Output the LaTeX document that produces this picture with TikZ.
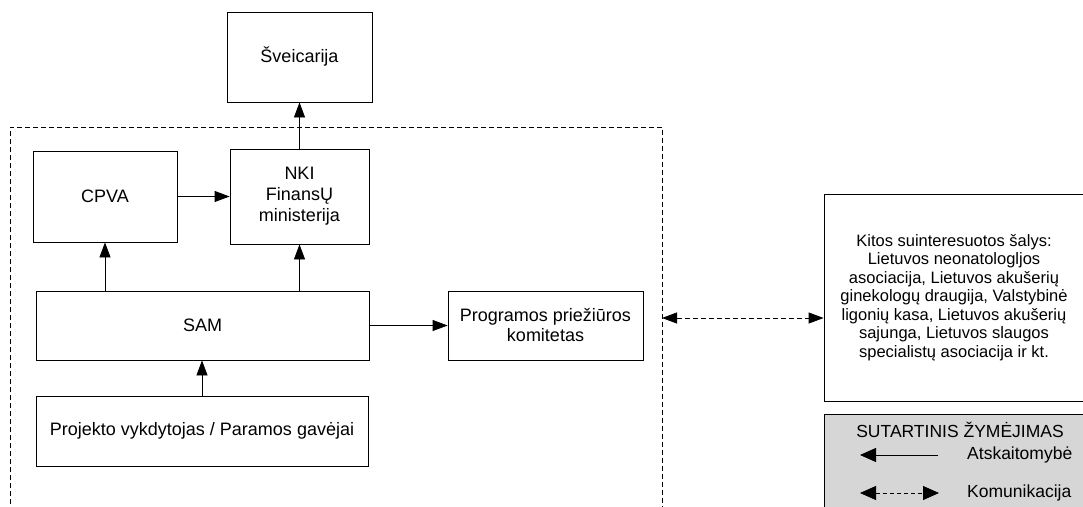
\documentclass[tikz,border=0pt]{standalone}
\usepackage{fontspec}
\setmainfont{Liberation Sans}
\usetikzlibrary{arrows.meta,calc}
\definecolor{legendgray}{RGB}{214,214,214}
\begin{document}
\begin{tikzpicture}[x=1pt,y=-1pt,
  box/.style={draw, line width=0.8pt, align=center, inner sep=0pt, font=\fontsize{18}{20.5}\selectfont},
  txt/.style={inner sep=0pt, font=\fontsize{17.5}{20}\selectfont},
  arr/.style={-{Triangle[length=15pt,width=11pt]}, line width=0.8pt},
  larr/.style={{Triangle[length=16pt,width=14pt]}-, line width=0.8pt},
  lcomm/.style={{Triangle[length=16pt,width=14pt]}-{Triangle[length=16pt,width=14pt]}, line width=0.8pt, dash pattern=on 4pt off 3pt},
  comm/.style={{Triangle[length=15pt,width=11pt]}-{Triangle[length=15pt,width=11pt]}, line width=0.8pt, dash pattern=on 5pt off 3pt},
  framestyle/.style={line width=0.8pt, dash pattern=on 5pt off 3pt}]
\useasboundingbox (0,0) rectangle (1083,506);
\clip (0,0) rectangle (1083,506);
\fill[white] (0,0) rectangle (1083,506);

% dashed frame (open at the bottom, beyond picture edge)
\coordinate (fbl) at (10,520);
\coordinate (ftl) at (10,127);
\coordinate (ftr) at (662,127);
\coordinate (fbr) at (662,520);
\draw[framestyle] (fbl) -- (ftl) -- (ftr) -- (fbr);

\node[box, minimum width=145pt, minimum height=90pt] (sv) at (299.5,57) {Šveicarija};
\node[box, minimum width=144pt, minimum height=91pt] (cpva) at (105,196.5) {CPVA};
\node[box, minimum width=139pt, minimum height=95pt, font=\fontsize{18}{21}\selectfont] (nki) at (299.5,196.5) {NKI\\FinansŲ\\ministerija};
\node[box, minimum width=333pt, minimum height=69pt] (sam) at (202.5,325.5) {SAM};
\node[box, minimum width=332pt, minimum height=70pt] (proj) at (202,431) {Projekto vykdytojas / Paramos gavėjai};
\node[box, minimum width=195pt, minimum height=69pt, font=\fontsize{18}{20}\selectfont] (prog) at (545.5,325.5) {Programos priežiūros\\komitetas};
\node[box, minimum width=260pt, minimum height=207pt, font=\fontsize{16.5}{18.5}\selectfont] (kitos) at (954,297.5) {Kitos suinteresuotos šalys:\\Lietuvos neonatologljos\\asociacija, Lietuvos akušerių\\ginekologų draugija, Valstybinė\\ligonių kasa, Lietuvos akušerių\\sajunga, Lietuvos slaugos\\specialistų asociacija ir kt.};

% legend
\node[draw, line width=0.8pt, fill=legendgray, minimum width=280pt, minimum height=110pt, anchor=north west, inner sep=0pt] (leg) at (824,414) {};
\node[txt] (legtitle) at (960,430) {SUTARTINIS ŽYMĖJIMAS};
\node[txt, anchor=west] (lega) at (967,455) {Atskaitomybė};
\node[txt, anchor=west] (legk) at (967,493) {Komunikacija};
\coordinate (la1) at (860,455);
\coordinate (la2) at (938,455);
\coordinate (lk1) at (860,493);
\coordinate (lk2) at (939,493);
\draw[larr] (la1) -- (la2);
\draw[lcomm] (lk1) -- (lk2);

% connectors
\draw[arr] (sam.north -| cpva.south) -- (cpva.south);
\draw[arr] (sam.north -| nki.south) -- (nki.south);
\draw[arr] (cpva.east) -- (cpva.east -| nki.west);
\draw[arr] (nki.north) -- (sv.south);
\draw[arr] (sam.east) -- (prog.west);
\draw[arr] (proj.north) -- (proj.north |- sam.south);
\coordinate (fc) at (662,318);
\draw[comm] (fc) -- (fc -| kitos.west);
\end{tikzpicture}
\end{document}
